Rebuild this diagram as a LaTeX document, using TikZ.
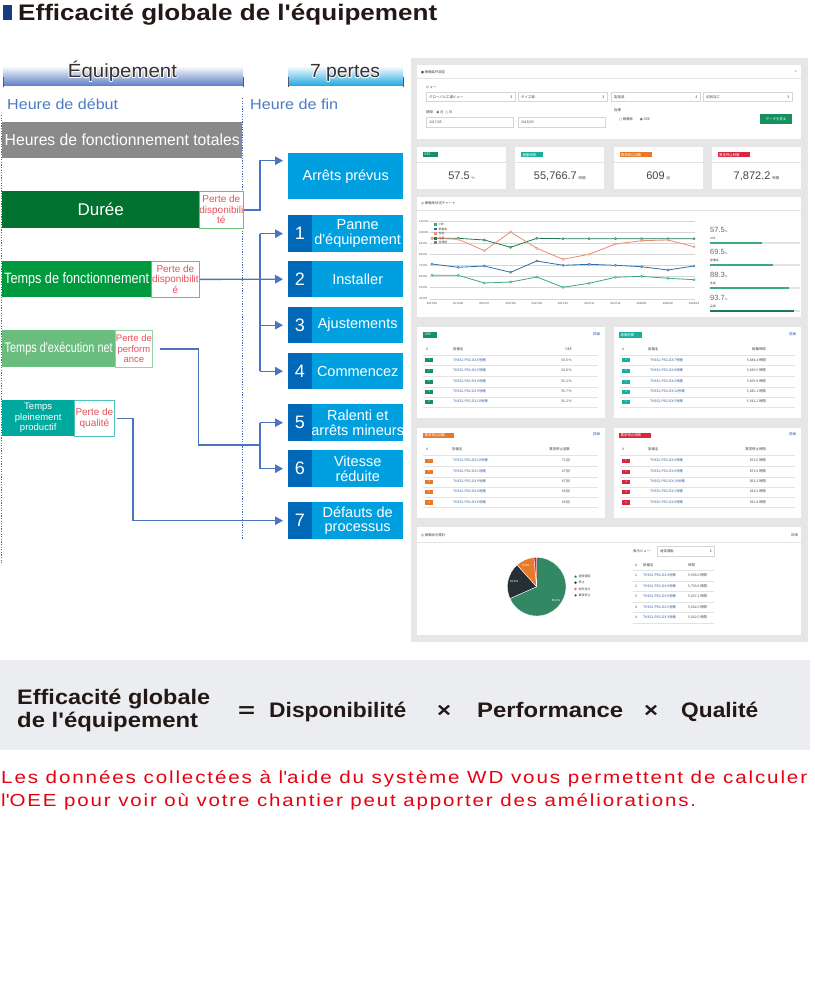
\documentclass[tikz,border=0pt]{standalone}
\usepackage{fontspec}
\usepackage{graphicx}
\setmainfont{Liberation Sans}
\newfontfamily\jp{Noto Sans CJK JP}
\newfontfamily\dv{DejaVu Sans}
\newfontfamily\redf[LetterSpace=9]{Liberation Sans}
\usetikzlibrary{arrows.meta}
\definecolor{navy}{HTML}{1B3A80}
\definecolor{titlec}{HTML}{231815}
\definecolor{connc}{HTML}{4A74BF}
\definecolor{dotc}{HTML}{3F6DC0}
\definecolor{lossblue}{HTML}{00A0E0}
\definecolor{numblue}{HTML}{0068B7}
\definecolor{graybox}{HTML}{8A8A8A}
\definecolor{dgreen}{HTML}{00712F}
\definecolor{mgreen}{HTML}{009A3E}
\definecolor{lgreen}{HTML}{6BBD7E}
\definecolor{teal1}{HTML}{00A99D}
\definecolor{lossred}{HTML}{E8505B}
\definecolor{hdrblue}{HTML}{4A7CC4}
\definecolor{eqblue}{HTML}{5A7CC6}
\definecolor{cyanbar}{HTML}{1EA7E1}
\definecolor{dashbg}{HTML}{E6E6E6}
\definecolor{formbg}{HTML}{EBEDF1}
\definecolor{redtxt}{HTML}{E60012}
\definecolor{jtc}{HTML}{444444}
\definecolor{linec}{HTML}{E3E3E3}
\definecolor{gridc}{HTML}{D6D6D6}
\definecolor{inputb}{HTML}{D5D5D5}
\definecolor{tgreen}{HTML}{14915E}
\definecolor{tteal}{HTML}{1AAE9F}
\definecolor{tor}{HTML}{E8792B}
\definecolor{tred}{HTML}{D7263D}
\definecolor{oeec}{HTML}{3DAA7A}
\definecolor{kadoc}{HTML}{2F6EA8}
\definecolor{seinoc}{HTML}{EB8C70}
\definecolor{hinsc}{HTML}{1D7A4E}
\definecolor{linkc}{HTML}{2A5C9A}
\definecolor{piedark}{HTML}{263034}
\newcommand{\fw}[2]{\resizebox{#1}{\height}{#2}}
\newcommand{\q}{\textquotesingle}
\newcommand{\mklossbox}[5]{%
  \node[lbox, minimum height=#3pt] (#1) at (288,#2) {};
  \fill[numblue] (#1.north west) rectangle ([xshift=24pt]#1.south west);
  \node[numtxt] at ([xshift=12pt]#1.west) {#4};
  \node[ltxt] at ([xshift=12pt]#1.center) {#5};
}
\newcommand{\kpi}[6]{%
  \fill[white] (#1,147) rectangle (#1+89,189);
  \fill[#2] (#1+6,152) rectangle (#1+6+#4,157.5);
  \node[jt, text=white] at (#1+7,154.75) {#3};
  \draw[linec, line width=0.4pt] (#1,162) -- (#1+89,162);
  \node[inner sep=0, text=jtc, font=\fontsize{11}{11}\selectfont] at (#1+44.5,176) {#5\,{\jp\fontsize{3.5}{4}\selectfont #6}};
}
\newcommand{\trow}[7]{%
  \fill[#3] (#1+8,#2-2.2) rectangle (#1+16,#2+2.2);
  \node[inner sep=0, text=white, font=\fontsize{2.6}{3}\selectfont] at (#1+12,#2) {#4};
  \node[jt, text=linkc] at (#1+36,#2) {#5};
  \node[jt, anchor=east] at (#7,#2) {#6};
  \draw[linec, line width=0.4pt] (#1+6,#2+5.2) -- (#1+181,#2+5.2);
}
\newcommand{\prow}[4]{%
  \node[jt] at (635,#1) {#2};
  \node[jt, text=linkc] at (643,#1) {#3};
  \node[jt] at (688,#1) {#4};
  \draw[linec, line width=0.4pt] (633,#1+5.2) -- (714,#1+5.2);
}
\begin{document}
\begin{tikzpicture}[x=1pt,y=-1pt,
  lb/.style={anchor=north west, inner sep=0, text=white, font=\fontsize{16}{16}\selectfont},
  pb/.style={anchor=north west, inner sep=0, fill=white, line width=0.8pt, text=lossred, align=center, font=\fontsize{10}{10.5}\selectfont},
  lbox/.style={anchor=north west, inner sep=0, fill=lossblue, minimum width=115pt},
  numtxt/.style={inner sep=0, text=white, font=\fontsize{18}{18}\selectfont},
  ltxt/.style={inner sep=0, text=white, align=center, font=\fontsize{14.5}{14.5}\selectfont},
  conn/.style={draw=connc, line width=1.3pt, -{Triangle[length=8pt,width=8.5pt]}, shorten >=5pt},
  connl/.style={draw=connc, line width=1.3pt},
  jt/.style={inner sep=0, anchor=west, text=jtc, font=\jp\fontsize{3.4}{4}\selectfont},
  fx/.style={inner sep=0, anchor=base west, text=titlec, font=\bfseries\fontsize{21}{21}\selectfont}
]
\useasboundingbox (0,0) rectangle (814,1008);
\fill[white] (0,0) rectangle (814,1008);

% ---------- title
\fill[navy] (3,5) rectangle (12,20);
\node[inner sep=0, anchor=base west, text=titlec, font=\bfseries\fontsize{22.5}{24}\selectfont] (title) at (18,21) {\fw{419pt}{Efficacité globale de l\q équipement}};

% ---------- header bars
\shade[top color=white, bottom color=eqblue] (3,66) rectangle (243,86);
\shade[top color=white, bottom color=cyanbar] (288,66) rectangle (403,86);
\draw[gray!70!black, line width=0.8pt] (3,77) -- (3,87) (243,77) -- (243,87) (288,77) -- (288,87) (403,77) -- (403,87);
\foreach \dx/\dy in {-0.8/0,0.8/0,0/-0.8,0/0.8,-0.6/-0.6,0.6/0.6,-0.6/0.6,0.6/-0.6}{
  \node[inner sep=0, anchor=base, text=white, font=\fontsize{19}{19}\selectfont] at (122.5+\dx,78+\dy) {\fw{109pt}{Équipement}};
  \node[inner sep=0, anchor=base, text=white, font=\fontsize{19}{19}\selectfont] at (345+\dx,78+\dy) {\fw{70pt}{7 pertes}};
}
\node[inner sep=0, anchor=base, text=titlec!90, font=\fontsize{19}{19}\selectfont] (eq) at (122.5,78) {\fw{109pt}{Équipement}};
\node[inner sep=0, anchor=base, text=titlec!90, font=\fontsize{19}{19}\selectfont] (sp) at (345,78) {\fw{70pt}{7 pertes}};
\node[inner sep=0, anchor=base west, text=hdrblue, font=\fontsize{14.5}{14.5}\selectfont] (hd) at (7,110) {\fw{111pt}{Heure de début}};
\node[inner sep=0, anchor=base west, text=hdrblue, font=\fontsize{14.5}{14.5}\selectfont] (hf) at (250,110) {\fw{88pt}{Heure de fin}};

% ---------- dotted time lines
\draw[dotc, line width=1.2pt, dash pattern=on 1.2pt off 1.4pt] (1.5,115) -- (1.5,563);
\draw[dotc, line width=1.2pt, dash pattern=on 1.2pt off 1.4pt] (242.5,98) -- (242.5,540);

% ---------- left bars
\node[lb, fill=graybox, minimum width=240pt, minimum height=36pt] (tot) at (2,122) {\fw{235pt}{Heures de fonctionnement totales}};
\node[lb, fill=dgreen, minimum width=197pt, minimum height=37pt, font=\fontsize{17}{17}\selectfont] (dur) at (2,191) {Durée};
\node[pb, draw=lgreen, minimum width=43pt, minimum height=37pt] (dperte) at (199,191) {Perte de\\disponibili\\té};
\node[lb, fill=mgreen, minimum width=149pt, minimum height=36pt, font=\fontsize{15}{15}\selectfont] (fonc) at (2,261) {\fw{145pt}{Temps de fonctionnement}};
\node[pb, draw=lgreen, minimum width=48pt, minimum height=36pt] (fperte) at (151,261) {Perte de\\disponibilit\\é};
\node[lb, fill=lgreen, minimum width=113pt, minimum height=37pt, font=\fontsize{14}{14}\selectfont] (net) at (2,330) {\fw{108pt}{Temps d\q exécution net}};
\node[pb, draw=lgreen!70, minimum width=37pt, minimum height=37pt, font=\fontsize{9.5}{10.5}\selectfont] (nperte) at (115,330) {Perte de\\perform\\ance};
\node[lb, fill=teal1, minimum width=72pt, minimum height=36pt, align=center, font=\fontsize{9.5}{10.5}\selectfont] (plein) at (2,400) {Temps\\pleinement\\productif};
\node[pb, draw=teal1!70, minimum width=40pt, minimum height=36pt] (qperte) at (74,400) {Perte de\\qualité};

% ---------- loss boxes
\node[lbox, minimum height=46pt, text=white, font=\fontsize{14.5}{14.5}\selectfont] (l0) at (288,153) {Arrêts prévus};
\mklossbox{l1}{215}{37}{1}{Panne\\d\q équipement}
\mklossbox{l2}{261}{36}{2}{Installer}
\mklossbox{l3}{307}{36}{3}{Ajustements}
\mklossbox{l4}{353}{36}{4}{Commencez}
\mklossbox{l5}{404}{37}{5}{Ralenti et\\arrêts mineurs}
\mklossbox{l6}{450}{37}{6}{Vitesse\\réduite}
\mklossbox{l7}{502}{37}{7}{Défauts de\\processus}

% ---------- connectors
\coordinate (bus) at (260,0);
\coordinate (k1) at (198.5,445);
\coordinate (k2) at (133,0);
\draw[conn] (dperte.east) -- (bus |- dperte.east) |- ([yshift=15.5pt]l0.west);
\draw[conn] (fperte.east) -- (l2.west);
\draw[connl] (bus |- l1.west) -- (bus |- l4.west);
\draw[conn] (bus |- l1.west) -- (l1.west);
\draw[conn] (bus |- l3.west) -- (l3.west);
\draw[conn] (bus |- l4.west) -- (l4.west);
\draw[connl] ([xshift=7pt]nperte.east) -| (k1) -- (bus |- k1);
\draw[connl] (bus |- l5.west) -- (bus |- l6.west);
\draw[conn] (bus |- l5.west) -- (l5.west);
\draw[conn] (bus |- l6.west) -- (l6.west);
\draw[conn] ([xshift=2pt]qperte.east) -| (k2 |- l7.west) -- (l7.west);

% ---------- dashboard screenshot
\fill[dashbg] (411,58) rectangle (808,642);
% panel 1
\fill[white] (417,65) rectangle (801,139);
\node[jt] at (421,72) {{\dv ●} 稼働条件設定};
\node[jt, anchor=east, font=\fontsize{4}{4}\selectfont] at (797,72) {\^{}};
\draw[linec, line width=0.4pt] (417,78) -- (801,78);
\node[jt] at (426,87) {ビュー};
\foreach \a/\t in {426/グローバル工場ビュー, 518/タイ工場, 611/製造部, 703/切削加工}{
  \draw[inputb, line width=0.4pt] (\a,92) rectangle (\a+89,101.5);
  \node[jt] at (\a+3,96.75) {\t};
  \node[jt, anchor=east, font=\dv\fontsize{3.5}{4}\selectfont] at (\a+87,96.75) {↕};
}
\node[jt] at (426,112) {期間\quad{\dv ◉} 月\ \ {\dv ○} 日};
\draw[inputb, line width=0.4pt] (426,117) rectangle (513,127);
\node[jt] at (429,122) {2017/05};
\node[jt] at (515,122) {-};
\draw[inputb, line width=0.4pt] (518,117) rectangle (605,127);
\node[jt] at (521,122) {2018/03};
\node[jt] at (614,110) {指標};
\node[jt] at (619,119) {{\dv ○} 稼働率\qquad{\dv ◉} OEE};
\fill[tgreen] (760,114) rectangle (792,124);
\node[jt, anchor=center, text=white] at (776,119) {データを見る};
% KPI cards
\kpi{417}{tgreen}{OEE}{15}{57.5}{\%}
\kpi{515.3}{tteal}{稼働時間}{22}{55,766.7}{時間}
\kpi{613.7}{tor}{異常停止回数}{32}{609}{回}
\kpi{712}{tred}{異常停止時間}{32}{7,872.2}{時間}
% chart panel
\fill[white] (417,197) rectangle (801,317);
\node[jt] at (421,203) {{\dv ◎} 稼働率状況チャート};
\draw[linec, line width=0.4pt] (417,210) -- (801,210);
\foreach \yy/\l in {221.7/110.0,232.3/100.0,243.3/90.0,254.3/80.0,265.7/70.0,276.7/60.0,287.7/50.0,299/40.0}{
  \draw[gridc, line width=0.5pt] (430,\yy) -- (695,\yy);
  \node[jt, font=\fontsize{2.8}{3}\selectfont] at (419,\yy) {\l\%};
}
\foreach \l [count=\i from 0] in {2017/05,2017/06,2017/07,2017/08,2017/09,2017/10,2017/11,2017/12,2018/01,2018/02,2018/03}{
  \node[jt, anchor=center, font=\fontsize{2.8}{3}\selectfont] at (432+26.2*\i,303) {\l};
}
\tikzset{ln/.style={line width=0.8pt, mark=*, mark size=1.1pt, mark options={fill=white, line width=0.5pt}}}
\draw[hinsc, ln] plot coordinates {(432,238.3) (458.2,238.3) (484.4,240) (510.6,247.3) (536.8,238.3) (563,238.7) (589.2,238.7) (615.4,238.7) (641.6,238.7) (667.8,238.7) (694,238.7)};
\draw[seinoc, ln] plot coordinates {(432,238.3) (458.2,239.3) (484.4,250.7) (510.6,232) (536.8,248.3) (563,259.3) (589.2,254.3) (615.4,244) (641.6,240.7) (667.8,240) (694,246.7)};
\draw[kadoc, ln] plot coordinates {(432,264) (458.2,267.3) (484.4,266) (510.6,272.3) (536.8,261) (563,265.3) (589.2,264.3) (615.4,265.3) (641.6,266.7) (667.8,270) (694,266)};
\draw[oeec, ln] plot coordinates {(432,275.3) (458.2,275.3) (484.4,283) (510.6,282) (536.8,277) (563,287.3) (589.2,283.3) (615.4,277.3) (641.6,276.3) (667.8,278.3) (694,279.7)};
\foreach \yy/\c/\t in {224.3/oeec/OEE,229/kadoc/稼働率,233.3/seinoc/性能,238.3/hinsc/品質,242.7/gray/目標値}{
  \fill[\c] (434,\yy-1.4) rectangle (436.8,\yy+1.4);
  \node[jt, font=\jp\fontsize{2.8}{3}\selectfont] at (438.5,\yy) {\t};
}
\foreach \yy/\v/\t/\w/\c in {230/57.5/OEE/762/oeec,252/69.5/稼働率/773/oeec,275/88.3/性能/789/oeec,298/93.7/品質/794/hinsc}{
  \node[inner sep=0, anchor=west, text=gray!80!black, font=\fontsize{7.5}{8}\selectfont] at (710,\yy) {\v{\fontsize{3}{3}\selectfont\%}};
  \node[jt, font=\jp\fontsize{2.8}{3}\selectfont] at (710,\yy+8.5) {\t};
  \fill[linec] (710,\yy+12.3) rectangle (800,\yy+14);
  \fill[\c] (710,\yy+12.3) rectangle (\w,\yy+14);
}
% table panels
\fill[white] (417,327) rectangle (605,418);
\fill[white] (614,327) rectangle (801,418);
\fill[white] (417,428) rectangle (605,518);
\fill[white] (614,428) rectangle (801,518);
% OEE table
\fill[tgreen] (423,332) rectangle (437,337.5);
\node[jt, text=white] at (424.5,334.75) {OEE};
\node[jt, text=linkc] at (593,334) {詳細};
\node[jt] at (426,349) {\#}; \node[jt] at (453,349) {設備名}; \node[jt, anchor=east] at (572,349) {OEE};
\draw[linec, line width=0.4pt] (423,355) -- (598,355);
\trow{417}{360}{tgreen}{1}{TH352-PSG-DX 6号機}{54.6 \%}{572}
\trow{417}{370.7}{tgreen}{2}{TH352-PSG-DX 5号機}{54.8 \%}{572}
\trow{417}{381.7}{tgreen}{3}{TH352-PSG-DX 4号機}{55.2 \%}{572}
\trow{417}{391.7}{tgreen}{4}{TH352-PSG-DX 9号機}{55.7 \%}{572}
\trow{417}{401.7}{tgreen}{5}{TH352-PSG-DX 10号機}{56.2 \%}{572}
% operating time table
\fill[tteal] (619,332) rectangle (642,337.5);
\node[jt, text=white] at (620.5,334.75) {稼働時間};
\node[jt, text=linkc] at (789,334) {詳細};
\node[jt] at (622,349) {\#}; \node[jt] at (648,349) {設備名}; \node[jt, anchor=east] at (766,349) {稼働時間};
\draw[linec, line width=0.4pt] (620,355) -- (795,355);
\trow{614}{360}{tteal}{1}{TH352-PSG-DX 7号機}{5,484.4 時間}{766}
\trow{614}{370.7}{tteal}{2}{TH352-PSG-DX 8号機}{5,439.5 時間}{766}
\trow{614}{381.7}{tteal}{3}{TH352-PSG-DX 2号機}{5,459.8 時間}{766}
\trow{614}{391.7}{tteal}{4}{TH352-PSG-DX 10号機}{5,480.1 時間}{766}
\trow{614}{401.7}{tteal}{5}{TH352-PSG-DX 5号機}{5,541.2 時間}{766}
% stop count table
\fill[tor] (423,432.5) rectangle (454,438);
\node[jt, text=white] at (424.5,435.25) {異常停止回数};
\node[jt, text=linkc] at (593,434) {詳細};
\node[jt] at (426,449) {\#}; \node[jt] at (452,449) {設備名}; \node[jt, anchor=east] at (570,449) {異常停止回数};
\draw[linec, line width=0.4pt] (423,455) -- (598,455);
\trow{417}{460.7}{tor}{1}{TH352-PSG-DX 10号機}{71 回}{570}
\trow{417}{471.7}{tor}{2}{TH352-PSG-DX 1号機}{67 回}{570}
\trow{417}{481.7}{tor}{2}{TH352-PSG-DX 9号機}{67 回}{570}
\trow{417}{491.7}{tor}{4}{TH352-PSG-DX 4号機}{66 回}{570}
\trow{417}{502.3}{tor}{4}{TH352-PSG-DX 6号機}{66 回}{570}
% stop time table
\fill[tred] (619,432.5) rectangle (651,438);
\node[jt, text=white] at (620.5,435.25) {異常停止時間};
\node[jt, text=linkc] at (789,434) {詳細};
\node[jt] at (622,449) {\#}; \node[jt] at (648,449) {設備名}; \node[jt, anchor=east] at (766,449) {異常停止時間};
\draw[linec, line width=0.4pt] (620,455) -- (795,455);
\trow{614}{460.7}{tred}{1}{TH352-PSG-DX 4号機}{873.6 時間}{766}
\trow{614}{471.7}{tred}{1}{TH352-PSG-DX 6号機}{873.6 時間}{766}
\trow{614}{481.7}{tred}{3}{TH352-PSG-DX 10号機}{853.3 時間}{766}
\trow{614}{491.7}{tred}{4}{TH352-PSG-DX 1号機}{833.0 時間}{766}
\trow{614}{502.3}{tred}{5}{TH352-PSG-DX 8号機}{832.8 時間}{766}
% pie panel
\fill[white] (417,527) rectangle (801,635);
\node[jt] at (421,535) {{\dv ◎} 稼働状況累計};
\node[jt, text=linkc] at (791,535) {詳細};
\draw[linec, line width=0.4pt] (417,542) -- (801,542);
\coordinate (pc) at (536.7,586.7);
\fill[oeec!80!black, draw=white, line width=0.4pt] (pc) -- ++(90:29.3pt) arc[start angle=90, end angle=-156, radius=29.3pt] -- cycle;
\fill[piedark, draw=white, line width=0.4pt] (pc) -- ++(-156:29.3pt) arc[start angle=-156, end angle=-228, radius=29.3pt] -- cycle;
\fill[tor, draw=white, line width=0.4pt] (pc) -- ++(-228:29.3pt) arc[start angle=-228, end angle=-264.5, radius=29.3pt] -- cycle;
\fill[tred, draw=white, line width=0.4pt] (pc) -- ++(-264.5:29.3pt) arc[start angle=-264.5, end angle=-270, radius=29.3pt] -- cycle;
\node[inner sep=0, text=white, font=\fontsize{3}{3}\selectfont] at (556,600) {68.4\%};
\node[inner sep=0, text=white, font=\fontsize{3}{3}\selectfont] at (514,581) {19.9\%};
\node[inner sep=0, text=white, font=\fontsize{3}{3}\selectfont] at (526,565) {9.9\%};
\foreach \yy/\c/\t in {576.7/oeec!80!black/通常運転,582.7/piedark/停止,589/tor/材料待ち,595.3/tred/異常停止}{
  \fill[\c] (575.5,\yy) circle (1.3pt);
  \node[jt, font=\jp\fontsize{3}{3.5}\selectfont] at (578.5,\yy) {\t};
}
\node[jt] at (633,551) {表示ビュー:};
\draw[inputb, line width=0.4pt] (657,546) rectangle (714,556);
\node[jt] at (660,551) {通常運転};
\node[jt, anchor=east, font=\dv\fontsize{3.5}{4}\selectfont] at (712.5,551) {↕};
\node[jt] at (635,565) {\#}; \node[jt] at (643,565) {設備名}; \node[jt] at (688,565) {時間};
\draw[linec, line width=0.4pt] (633,570) -- (714,570);
\prow{575.7}{1}{TH352-PSG-DX 4号機}{5,906.0 時間}
\prow{586}{2}{TH352-PSG-DX 8号機}{5,703.6 時間}
\prow{596.7}{3}{TH352-PSG-DX 9号機}{5,607.2 時間}
\prow{607.3}{4}{TH352-PSG-DX 1号機}{5,602.0 時間}
\prow{617.7}{4}{TH352-PSG-DX 3号機}{5,602.0 時間}

% ---------- formula
\fill[formbg] (0,660) rectangle (810,750);
\node[fx] (ef1) at (17,704) {\fw{193pt}{Efficacité globale}};
\node[fx] (ef2) at (17,727) {\fw{181pt}{de l\q équipement}};
\node[fx] (eqs) at (238,717) {\fw{17pt}{=}};
\node[fx] (dis) at (269,717) {\fw{137pt}{Disponibilité}};
\node[fx] (x1) at (437,717) {\fw{14pt}{×}};
\node[fx] (perf) at (477,717) {\fw{146pt}{Performance}};
\node[fx] (x2) at (644,717) {\fw{14pt}{×}};
\node[fx] (qual) at (681,717) {\fw{77pt}{Qualité}};

% ---------- red note
\node[inner sep=0, anchor=base west, text=redtxt, font=\redf\fontsize{17.5}{18}\selectfont] (r1) at (1,783) {\fw{806pt}{Les données collectées à l\q aide du système WD vous permettent de calculer}};
\node[inner sep=0, anchor=base west, text=redtxt, font=\redf\fontsize{17.5}{18}\selectfont] (r2) at (1,806) {\fw{695pt}{l\q OEE pour voir où votre chantier peut apporter des améliorations.}};
\end{tikzpicture}
\end{document}
